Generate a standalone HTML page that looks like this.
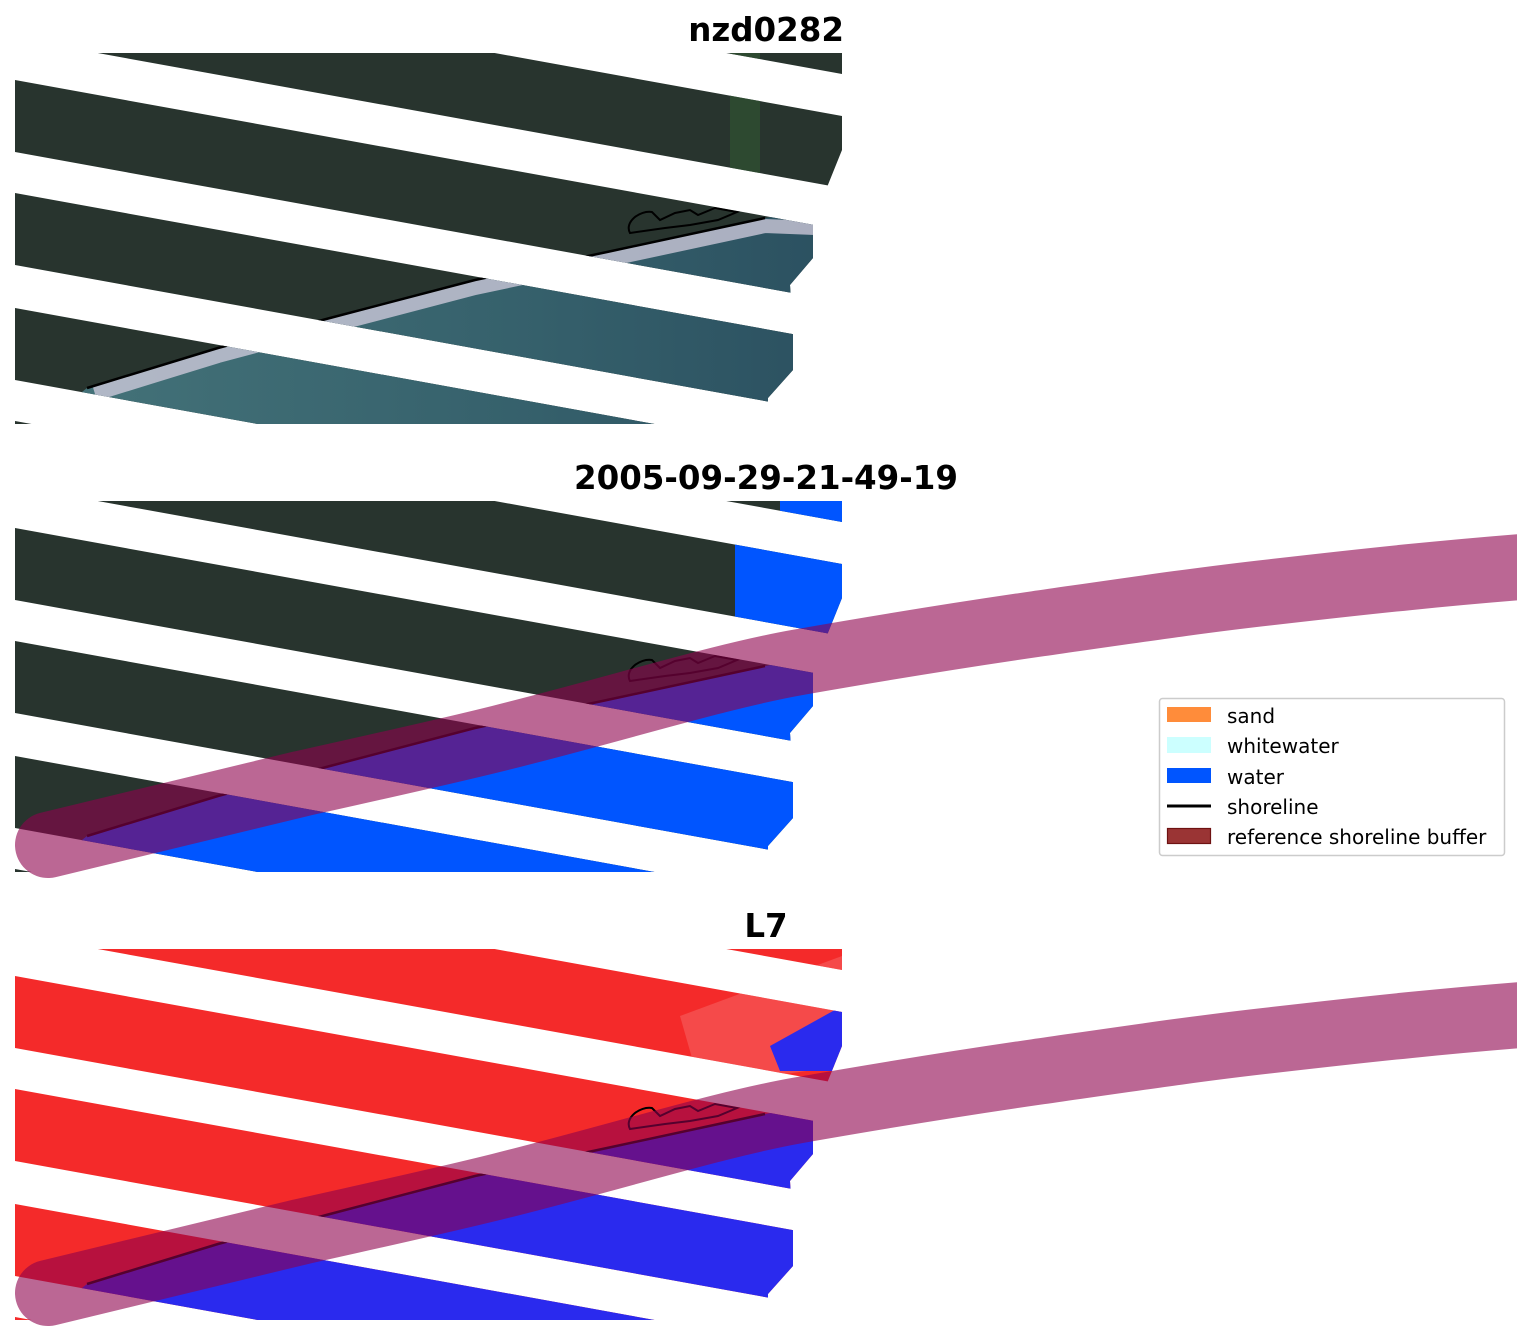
<!DOCTYPE html>
<html><head><meta charset="utf-8"><style>
html,body{margin:0;padding:0;background:#fff;}
svg{display:block;}
text{font-family:"DejaVu Sans","Liberation Sans",sans-serif;}
</style></head><body>
<svg width="1531" height="1337" viewBox="0 0 1531 1337" xmlns="http://www.w3.org/2000/svg">
<defs>
<clipPath id="st" clipPathUnits="userSpaceOnUse">
 <polygon points="15,-148 842,2 842,74 15,-76"/>
 <polygon points="15,-34 842,116 842,188 15,38"/>
 <polygon points="15,80 842,230 842,302 15,152"/>
 <polygon points="15,193 842,343 842,415 15,265"/>
 <polygon points="15,308 842,458 842,530 15,380"/>
 <polygon points="15,421 842,571 842,643 15,493"/>
</clipPath>
<clipPath id="bd" clipPathUnits="userSpaceOnUse">
 <polygon points="15,53 842,53 842,150 813,222 813,258 790,285 793,330 793,370 768,398 768,424 15,424"/>
</clipPath>
<clipPath id="bandclip" clipPathUnits="userSpaceOnUse">
 <rect x="0" y="0" width="1517" height="440"/>
</clipPath>
<linearGradient id="wt" x1="0" y1="0" x2="1" y2="0">
 <stop offset="0" stop-color="#45747a"/><stop offset="0.6" stop-color="#36616c"/><stop offset="1" stop-color="#2b5060"/>
</linearGradient>
</defs>

<!-- Panel 1 -->
<text x="844" y="41" text-anchor="end" font-size="32.5" font-weight="bold">nzd0282</text>
<g clip-path="url(#bd)"><g clip-path="url(#st)">
 <rect x="0" y="40" width="850" height="400" fill="#28342e"/>
 <rect x="730" y="53" width="30" height="120" fill="#2f5232" opacity="0.7"/>
 <polygon points="15,445 87,388 218,348 330,318 475,280 607,252 765,218 842,205 842,440 15,440" fill="url(#wt)"/>
 <polyline points="95,394 218,356 330,326 475,288 607,260 765,226 815,228" fill="none" stroke="#d6cfe0" stroke-width="14" opacity="0.75"/>
 <polyline points="87,388 218,348 330,318 475,280 607,252 765,218" fill="none" stroke="#000" stroke-width="2.5"/>
 <path d="M630,233 C624,222 640,210 652,212 L660,220 L675,213 L690,210 L698,215 L715,208 L737,212 L718,220 L690,225 L665,228 Z" fill="none" stroke="#000" stroke-width="2"/>
</g></g>

<!-- Panel 2 -->
<text x="766" y="489" text-anchor="middle" font-size="32.5" font-weight="bold">2005-09-29-21-49-19</text>
<g transform="translate(0,448)">
<g clip-path="url(#bd)"><g clip-path="url(#st)">
 <rect x="0" y="40" width="850" height="400" fill="#28342e"/>
 <polygon points="15,445 87,388 218,348 330,318 475,280 607,252 765,218 842,205 842,440 15,440" fill="#0055ff"/>
 <polygon points="735,90 842,90 842,215 735,175" fill="#0055ff"/>
 <polygon points="780,40 842,40 842,80 780,80" fill="#0055ff"/>
 <polyline points="87,388 218,348 330,318 475,280 607,252 765,218" fill="none" stroke="#000" stroke-width="2.5"/>
 <path d="M630,233 C624,222 640,210 652,212 L660,220 L675,213 L690,210 L698,215 L715,208 L737,212 L718,220 L690,225 L665,228 Z" fill="none" stroke="#000" stroke-width="2"/>
</g></g>
<g clip-path="url(#bandclip)">
<path d="M48,397 C150,372 250,348 300,336 C380,318 440,305 500,290 C620,260 720,228 800,214 C880,200 960,187 1036,176 C1120,164 1200,152 1273,144 C1360,134 1450,124 1560,116" fill="none" stroke="#8e024d" stroke-opacity="0.6" stroke-width="66" stroke-linecap="round"/>
</g>
</g>

<!-- Legend -->
<rect x="1159.5" y="698.5" width="345" height="157" rx="3" fill="#fff" stroke="#cccccc" stroke-width="1.5"/>
<rect x="1167" y="707" width="44" height="15" fill="#ff8c3a"/>
<rect x="1167" y="737" width="44" height="16" fill="#ccffff"/>
<rect x="1167" y="768" width="44" height="15" fill="#0055ff"/>
<line x1="1167" y1="806" x2="1211" y2="806" stroke="#000" stroke-width="3"/>
<rect x="1167.5" y="828.5" width="43" height="15" fill="#9a3434" stroke="#6e1212" stroke-width="1.2"/>
<g font-size="20" fill="#000">
<text x="1227" y="723">sand</text>
<text x="1227" y="753">whitewater</text>
<text x="1227" y="784">water</text>
<text x="1227" y="814">shoreline</text>
<text x="1227" y="844">reference shoreline buffer</text>
</g>

<!-- Panel 3 -->
<text x="766" y="937" text-anchor="middle" font-size="32.5" font-weight="bold">L7</text>
<g transform="translate(0,896)">
<g clip-path="url(#bd)"><g clip-path="url(#st)">
 <rect x="0" y="40" width="850" height="400" fill="#f42a2a"/>
 <polygon points="680,120 842,60 842,170 700,190" fill="#f56a6a" opacity="0.5"/>
 <polygon points="15,445 87,388 218,348 330,318 475,280 607,252 765,218 842,205 842,440 15,440" fill="#2a2aee"/>
 <polygon points="770,150 842,110 842,175 780,175" fill="#2a2aee"/>
 <polyline points="87,388 218,348 330,318 475,280 607,252 765,218" fill="none" stroke="#000" stroke-width="2.5"/>
 <path d="M630,233 C624,222 640,210 652,212 L660,220 L675,213 L690,210 L698,215 L715,208 L737,212 L718,220 L690,225 L665,228 Z" fill="none" stroke="#000" stroke-width="2"/>
</g></g>
<g clip-path="url(#bandclip)">
<path d="M48,397 C150,372 250,348 300,336 C380,318 440,305 500,290 C620,260 720,228 800,214 C880,200 960,187 1036,176 C1120,164 1200,152 1273,144 C1360,134 1450,124 1560,116" fill="none" stroke="#8e024d" stroke-opacity="0.6" stroke-width="66" stroke-linecap="round"/>
</g>
</g>
</svg>
</body></html>
